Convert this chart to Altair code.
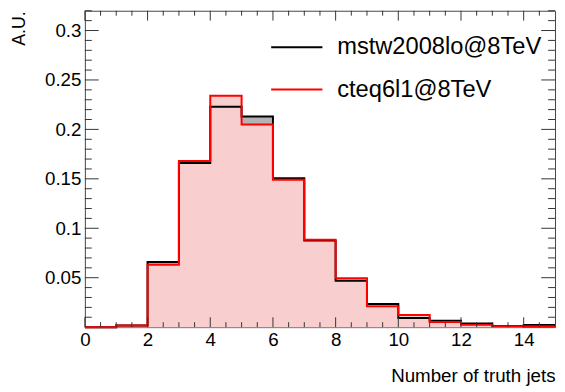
import altair as alt
import pandas as pd

# ---- data ----
edges = list(range(16))  # bin edges 0..15, bins of width 1
series = ["mstw2008lo@8TeV", "cteq6l1@8TeV"]
mstw = [0.0, 0.0017, 0.0658, 0.166, 0.223, 0.213, 0.1505, 0.0875,
        0.047, 0.0235, 0.0093, 0.0066, 0.0036, 0.0012, 0.0023]
cteq = [0.0, 0.0016, 0.063, 0.168, 0.234, 0.205, 0.149, 0.0883,
        0.0495, 0.021, 0.0123, 0.0053, 0.0023, 0.001, 0.0005]
x_labels = [0, 2, 4, 6, 8, 10, 12, 14]
x_minor = [0.5, 1, 1.5, 2.5, 3, 3.5, 4.5, 5, 5.5, 6.5, 7, 7.5, 8.5, 9, 9.5,
           10.5, 11, 11.5, 12.5, 13, 13.5, 14.5]
y_labels = [0.05, 0.1, 0.15, 0.2, 0.25, 0.3]
y_minor = [0.01, 0.02, 0.03, 0.04, 0.06, 0.07, 0.08, 0.09, 0.11, 0.12, 0.13,
           0.14, 0.16, 0.17, 0.18, 0.19, 0.21, 0.22, 0.23, 0.24, 0.26, 0.27,
           0.28, 0.29, 0.31, 0.32]

W, H = 477, 321
FONT = "Liberation Sans"

# ---- table built from the arrays ----
line_rows = []
for name, vals in zip(series, [mstw, cteq]):
    for i, v in enumerate(vals):
        line_rows.append({"series": name, "x": edges[i], "v": v})
    line_rows.append({"series": name, "x": edges[-1], "v": vals[-1]})
lines = pd.DataFrame(line_rows)

xs = alt.Scale(domain=[0, 15], nice=False, zero=False)
ys = alt.Scale(domain=[0, 0.32], nice=False, zero=False)

xaxis = alt.Axis(values=x_labels, format="d", ticks=False, tickSize=0, domain=False,
                 grid=False, labelFontSize=19, labelPadding=4, labelFlush=False,
                 labelColor="black", labelFont=FONT,
                 title="Number of truth jets", titleFont=FONT, titleFontSize=19,
                 titleFontWeight="normal", titleColor="black",
                 titleX=W, titleY=55, titleAlign="right", titleBaseline="alphabetic")
yaxis = alt.Axis(values=y_labels, format="~g", ticks=False, tickSize=0, domain=False,
                 grid=False, labelFontSize=19, labelPadding=4, labelFlush=False,
                 labelColor="black", labelFont=FONT,
                 title="A.U.", titleFont=FONT, titleFontSize=18,
                 titleFontWeight="normal", titleColor="black", titleAngle=270,
                 titleX=-61, titleY=0, titleAlign="right", titleBaseline="alphabetic")

color = alt.Color("series:N", scale=alt.Scale(domain=series, range=["black", "red"]),
                  legend=alt.Legend(orient="none", legendX=203, legendY=25, title=None,
                                    symbolType="M-2.6,0H2.6", symbolSize=400,
                                    symbolStrokeWidth=2, labelFontSize=24, labelFont=FONT,
                                    labelColor="black", labelOffset=29, rowPadding=19,
                                    labelLimit=0, padding=0))


def fill(name, col):
    return alt.Chart(lines).transform_filter(alt.datum.series == name).mark_area(
        interpolate="step-after", color=col, opacity=1).encode(
        x=alt.X("x:Q", scale=xs, axis=xaxis),
        y=alt.Y("v:Q", scale=ys, axis=yaxis))


def outline(name):
    return alt.Chart(lines).transform_filter(alt.datum.series == name).mark_line(
        interpolate="step-after", strokeWidth=2).encode(
        x=alt.X("x:Q", scale=xs, axis=xaxis),
        y=alt.Y("v:Q", scale=ys, axis=yaxis),
        color=color)


def xticks(vals, length):
    d = pd.DataFrame({"t": vals})
    b = alt.Chart(d).mark_rule(color="#333", strokeWidth=1)
    bot = b.encode(x=alt.X("t:Q", scale=xs, axis=xaxis), y=alt.value(H), y2=alt.value(H - length))
    top = b.encode(x=alt.X("t:Q", scale=xs, axis=xaxis), y=alt.value(0), y2=alt.value(length))
    return [bot, top]


def yticks(vals, length):
    d = pd.DataFrame({"t": vals})
    b = alt.Chart(d).mark_rule(color="#333", strokeWidth=1)
    left = b.encode(y=alt.Y("t:Q", scale=ys, axis=yaxis), x=alt.value(0), x2=alt.value(length))
    right = b.encode(y=alt.Y("t:Q", scale=ys, axis=yaxis), x=alt.value(W), x2=alt.value(W - length))
    return [left, right]


layers = [fill(series[0], "#b4b4b4"), fill(series[1], "#f9cece"),
          outline(series[0]), outline(series[1])]
layers += xticks(x_labels, 10) + xticks(x_minor, 5)
layers += yticks(y_labels, 14) + yticks(y_minor, 7)

chart = alt.layer(*layers).properties(
    width=W, height=H,
    autosize=alt.AutoSizeParams(type="none"),
    padding={"left": 78, "top": 0, "right": 2, "bottom": 62},
    background="white",
).configure_view(stroke="#444", strokeWidth=1)

chart.save("out.html", embed_options={"renderer": "svg", "actions": False})
